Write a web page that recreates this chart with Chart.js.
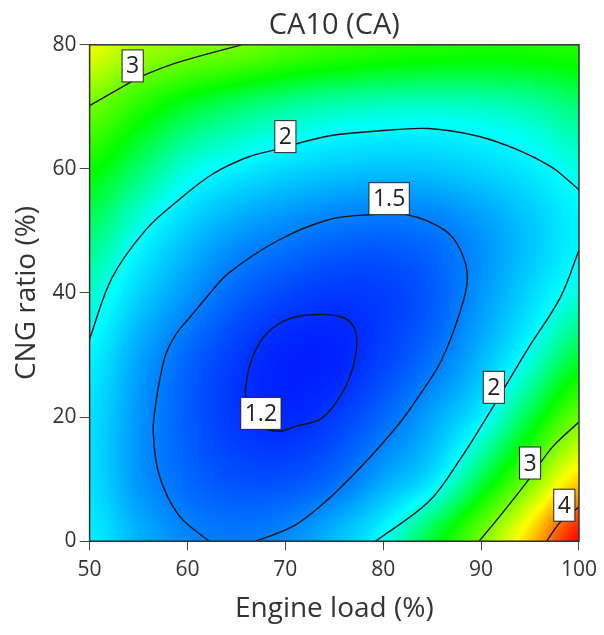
<!DOCTYPE html>
<html>
<head>
<meta charset="utf-8">
<title>CA10 (CA)</title>
<script src="https://cdn.jsdelivr.net/npm/chart.js@4.4.1/dist/chart.umd.min.js"></script>
<style>
  html, body { margin: 0; padding: 0; background: #fff; }
</style>
</head>
<body>
<canvas id="contourChart" width="604" height="635"></canvas>
<script>
// Response grid for CA10 (CA): rows follow CNG ratio, columns follow engine load
var engineLoad = [50, 55, 60, 65, 70, 75, 80, 85, 90, 95, 100];
var cngRatio = [0, 10, 20, 30, 40, 50, 60, 70, 80];
var ca10 = [
    [1.95, 1.71, 1.54, 1.49, 1.56, 1.75, 2.02, 2.49, 3.03, 3.70, 4.49],
    [1.89, 1.60, 1.42, 1.33, 1.33, 1.43, 1.66, 1.90, 2.42, 3.01, 3.65],
    [1.89, 1.60, 1.38, 1.23, 1.17, 1.25, 1.42, 1.66, 1.95, 2.45, 2.97],
    [1.97, 1.66, 1.42, 1.25, 1.15, 1.15, 1.27, 1.45, 1.72, 2.05, 2.45],
    [2.12, 1.84, 1.60, 1.41, 1.30, 1.24, 1.26, 1.37, 1.60, 1.85, 2.08],
    [2.34, 2.04, 1.80, 1.63, 1.53, 1.46, 1.43, 1.47, 1.60, 1.78, 1.96],
    [2.63, 2.35, 2.08, 1.95, 1.86, 1.80, 1.77, 1.78, 1.84, 1.93, 2.06],
    [2.99, 2.72, 2.50, 2.35, 2.24, 2.17, 2.13, 2.12, 2.14, 2.20, 2.32],
    [3.43, 3.20, 3.08, 3.02, 2.90, 2.82, 2.76, 2.72, 2.70, 2.70, 2.72]
];

// Contour lines as [engine load, CNG ratio]
var contour12 = [[65.9, 24.2], [66.3, 28.0], [67.3, 31.8], [68.6, 34.2], [70.3, 35.8], [72.7, 36.5], [75.4, 36.3],
    [76.8, 35.0], [77.3, 32.3], [76.9, 28.0], [75.7, 23.6], [73.7, 19.8], [71.0, 18.5], [69.3, 17.7],
    [67.5, 18.5], [66.2, 21.0], [65.9, 24.2]];
var contour15 = [[62.2, 0], [59.1, 4.2], [57.1, 10.7], [56.5, 17.7], [56.8, 22.6], [57.2, 26.3], [57.8, 30.2],
    [58.8, 33.3], [60.2, 36.0], [62.0, 39.4], [64.2, 43.2], [69.3, 48.5], [74.4, 51.8], [78.5, 52.6],
    [82.5, 52.6], [86.3, 50.1], [87.9, 46.9], [88.6, 42.5], [87.9, 37.2], [85.9, 29.0], [83.3, 22.6],
    [81.8, 19.3], [78.5, 13.3], [74.4, 6.8], [71.0, 2.6], [67.0, 0]];
var contour2Upper = [[50, 32.6], [52.3, 42.5], [55.8, 50.3], [59.1, 55.0], [62.5, 59.1], [66.0, 61.8],
    [69.0, 63.1], [74.4, 65.3], [79.5, 66.1], [84.6, 66.5], [89.6, 65.3], [93.7, 63.1], [97.1, 60.4],
    [98.8, 58.3], [100, 56.6]];
var contour2Lower = [[100, 46.9], [98.1, 39.3], [94.7, 30.8], [91.0, 21.1], [87.9, 13.3], [84.6, 6.3], [79.2, 0]];
var contour3Top = [[50, 70.2], [54.1, 73.9], [55.4, 75.0], [59.1, 77.2], [65.5, 80]];
var contour3Bottom = [[100, 19.2], [97.3, 15.2], [94.7, 9.6], [92.0, 4.2], [89.8, 0]];
var contour4 = [[100, 5.5], [98.1, 3.1], [96.7, 0]];

// Contour labels
var labelText = ['3', '2', '1.5', '1.2', '2', '3', '4'];
var labelLoad = [54.4, 70.0, 80.6, 67.5, 91.3, 95.0, 98.5];
var labelRatio = [76.6, 65.2, 55.2, 20.6, 24.8, 12.6, 5.8];

var tickColor = '#333333';
var fontFamily = '"Open Sans", "DejaVu Sans", sans-serif';

// blue -> cyan -> green -> yellow -> red
var colorStops = [
    [1.02, [0, 0, 255]],
    [2.0, [0, 255, 255]],
    [2.6, [0, 255, 0]],
    [3.5, [255, 255, 0]],
    [4.5, [255, 0, 0]]
];

function valueColor(v) {
    if (v <= colorStops[0][0]) return colorStops[0][1];
    for (var i = 1; i < colorStops.length; i++) {
        if (v <= colorStops[i][0]) {
            var a = colorStops[i - 1], b = colorStops[i];
            var t = (v - a[0]) / (b[0] - a[0]);
            return [
                a[1][0] + (b[1][0] - a[1][0]) * t,
                a[1][1] + (b[1][1] - a[1][1]) * t,
                a[1][2] + (b[1][2] - a[1][2]) * t
            ];
        }
    }
    return colorStops[colorStops.length - 1][1];
}

// Catmull-Rom smoothing between grid nodes
function cubic(p0, p1, p2, p3, t) {
    return p1 + 0.5 * t * (p2 - p0 + t * (2 * p0 - 5 * p1 + 4 * p2 - p3 + t * (3 * (p1 - p2) + p3 - p0)));
}

function gridAt(r, c) {
    r = Math.max(0, Math.min(cngRatio.length - 1, r));
    c = Math.max(0, Math.min(engineLoad.length - 1, c));
    return ca10[r][c];
}

function sampleGrid(load, ratio) {
    var gx = (load - engineLoad[0]) / (engineLoad[1] - engineLoad[0]);
    var gy = (ratio - cngRatio[0]) / (cngRatio[1] - cngRatio[0]);
    var c = Math.max(0, Math.min(engineLoad.length - 2, Math.floor(gx)));
    var r = Math.max(0, Math.min(cngRatio.length - 2, Math.floor(gy)));
    var tx = gx - c, ty = gy - r;
    var rows = [];
    for (var k = -1; k <= 2; k++) {
        rows.push(cubic(gridAt(r + k, c - 1), gridAt(r + k, c), gridAt(r + k, c + 1), gridAt(r + k, c + 2), tx));
    }
    return cubic(rows[0], rows[1], rows[2], rows[3], ty);
}

// Paints the colour field under the contour lines
var heatmapPlugin = {
    id: 'heatmap',
    beforeDatasetsDraw: function(chart) {
        var area = chart.chartArea;
        var xScale = chart.scales.x, yScale = chart.scales.y;
        var w = Math.round(area.right - area.left), h = Math.round(area.bottom - area.top);
        var off = document.createElement('canvas');
        off.width = w;
        off.height = h;
        var octx = off.getContext('2d');
        var img = octx.createImageData(w, h);
        for (var j = 0; j < h; j++) {
            var ratio = yScale.getValueForPixel(area.top + j + 0.5);
            for (var i = 0; i < w; i++) {
                var load = xScale.getValueForPixel(area.left + i + 0.5);
                var col = valueColor(sampleGrid(load, ratio));
                var p = (j * w + i) * 4;
                img.data[p] = col[0];
                img.data[p + 1] = col[1];
                img.data[p + 2] = col[2];
                img.data[p + 3] = 255;
            }
        }
        octx.putImageData(img, 0, 0);
        chart.ctx.drawImage(off, area.left, area.top);
    },
    afterDatasetsDraw: function(chart) {
        var ctx = chart.ctx;
        var area = chart.chartArea;
        var xScale = chart.scales.x, yScale = chart.scales.y;
        ctx.save();
        ctx.strokeStyle = '#333333';
        ctx.lineWidth = 1.5;
        ctx.strokeRect(area.left, area.top, area.right - area.left, area.bottom - area.top);

        // white boxed contour labels
        ctx.font = '23px ' + fontFamily;
        ctx.textAlign = 'center';
        ctx.textBaseline = 'middle';
        for (var i = 0; i < labelText.length; i++) {
            var px = xScale.getPixelForValue(labelLoad[i]);
            var py = yScale.getPixelForValue(labelRatio[i]);
            var tw = ctx.measureText(labelText[i]).width;
            var bw = tw + 8, bh = 32;
            ctx.fillStyle = '#ffffff';
            ctx.fillRect(px - bw / 2, py - bh / 2, bw, bh);
            ctx.strokeStyle = '#222222';
            ctx.lineWidth = 1;
            ctx.strokeRect(px - bw / 2, py - bh / 2, bw, bh);
            ctx.fillStyle = '#222222';
            ctx.fillText(labelText[i], px, py + 1);
        }
        ctx.restore();
    }
};

function contourDataset(points) {
    return {
        data: points.map(function(p) { return { x: p[0], y: p[1] }; }),
        showLine: true,
        borderColor: '#151515',
        borderWidth: 1.4,
        pointRadius: 0,
        tension: 0.35,
        fill: false
    };
}

var ctx = document.getElementById('contourChart').getContext('2d');
var contourChart = new Chart(ctx, {
    type: 'scatter',
    data: {
        datasets: [
            contourDataset(contour12),
            contourDataset(contour15),
            contourDataset(contour2Upper),
            contourDataset(contour2Lower),
            contourDataset(contour3Top),
            contourDataset(contour3Bottom),
            contourDataset(contour4)
        ]
    },
    options: {
        responsive: false,
        animation: false,
        layout: {
            padding: { left: 10, right: 0, top: 8, bottom: 9 }
        },
        plugins: {
            legend: { display: false },
            tooltip: { enabled: false },
            title: {
                display: true,
                text: 'CA10 (CA)',
                fullSize: false,
                color: tickColor,
                font: { family: fontFamily, size: 29, weight: 'normal' },
                padding: { top: 0, bottom: 2 }
            }
        },
        scales: {
            x: {
                type: 'linear',
                min: 50,
                max: 100,
                ticks: {
                    stepSize: 10,
                    color: tickColor,
                    padding: 7,
                    font: { family: fontFamily, size: 21 }
                },
                grid: {
                    drawOnChartArea: false,
                    tickLength: 9,
                    color: '#444444'
                },
                border: { color: '#333333' },
                title: {
                    display: true,
                    text: 'Engine load (%)',
                    color: tickColor,
                    font: { family: fontFamily, size: 28 },
                    padding: { top: 3, bottom: 0 }
                }
            },
            y: {
                type: 'linear',
                min: 0,
                max: 80,
                ticks: {
                    stepSize: 20,
                    color: tickColor,
                    padding: 3,
                    font: { family: fontFamily, size: 21 }
                },
                grid: {
                    drawOnChartArea: false,
                    tickLength: 10,
                    color: '#444444'
                },
                border: { color: '#333333' },
                title: {
                    display: true,
                    text: 'CNG ratio (%)',
                    color: tickColor,
                    font: { family: fontFamily, size: 28 },
                    padding: { top: 0, bottom: 6 }
                }
            }
        }
    },
    plugins: [heatmapPlugin]
});
</script>
</body>
</html>
